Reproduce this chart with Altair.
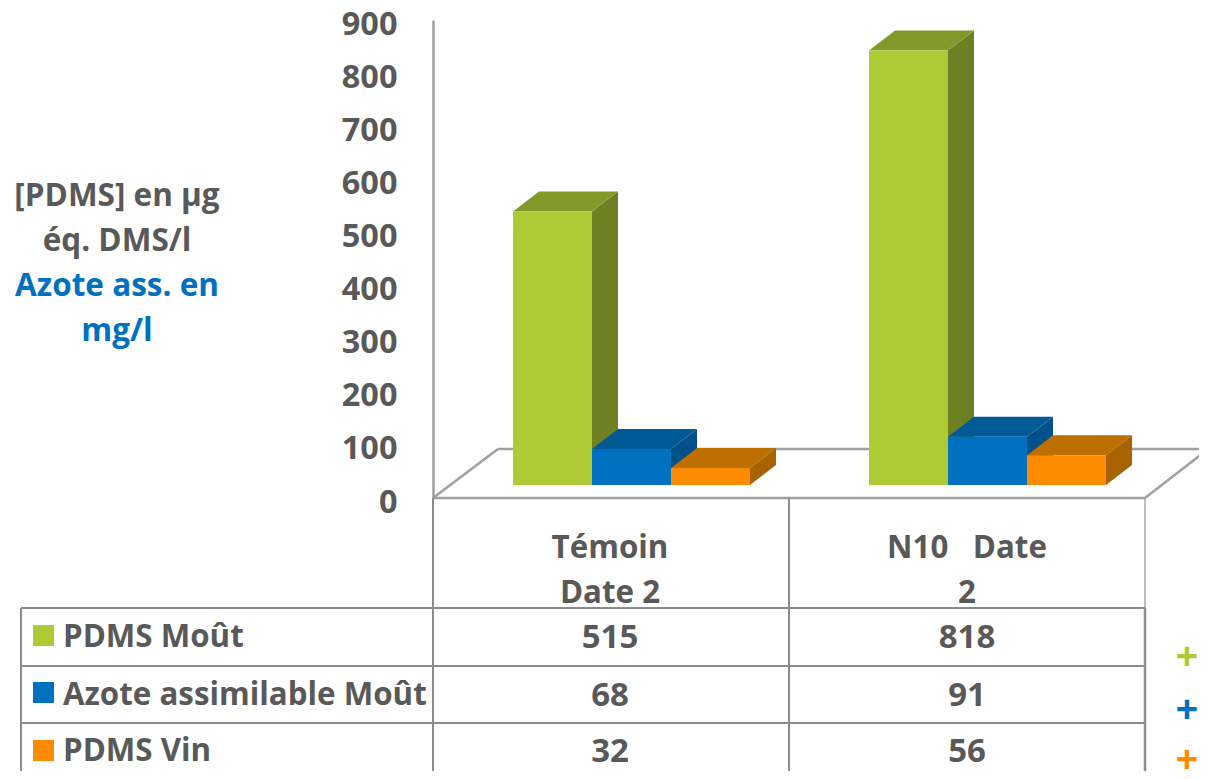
import altair as alt
import pandas as pd

categories = ["Témoin Date 2", "N10 Date 2"]
category_lines = [["Témoin", "Date 2"], ["N10\u00a0\u00a0\u00a0Date", "2"]]
series = ["PDMS Moût", "Azote assimilable Moût", "PDMS Vin"]
pdms_mout = [515, 818]
azote_mout = [68, 91]
pdms_vin = [32, 56]
values = [pdms_mout, azote_mout, pdms_vin]
front = ["#AECB36", "#0070C0", "#FF8C00"]
side = ["#6F7F24", "#00508A", "#A96200"]
top = ["#839A2A", "#005A96", "#BD6F00"]
y_ticks = [0, 100, 200, 300, 400, 500, 600, 700, 800, 900]
y_title = [("[PDMS] en µg", "#595959"), ("éq. DMS/l", "#595959"),
           ("Azote ass. en", "#0070C0"), ("mg/l", "#0070C0")]

FONT = "Open Sans"
GREY = "#595959"
LINE = "#A0A0A0"
TLINE = "#8C8C8C"
FS = 31.3

OX, OY = 433, 20
W, H = 712, 478
UNIT = H / 900.0
BASE = 13 / UNIT
DX, DY = 26, 20 / UNIT
BAR_W = 79
group_left = [80, 436]

x_scale = alt.Scale(domain=[0, W], range=[0, W], nice=False, zero=False)
y_scale = alt.Scale(domain=[0, 900], nice=False, zero=False)
y_axis = alt.Axis(values=y_ticks, title=None, grid=False, ticks=False,
                  labelFont=FONT, labelFontWeight="bold", labelFontSize=32.5,
                  labelColor=GREY, labelPadding=36, labelOffset=4, domainColor=LINE,
                  domainWidth=2.5, labelBaseline="middle", labelOverlap=False)


def px(v):
    return v - OX


def py(v):
    return v - OY


def X(f):
    return alt.X(f, type="quantitative", scale=x_scale, axis=None)


def Y(f):
    return alt.Y(f, type="quantitative", scale=y_scale, axis=y_axis)


def lit():
    return alt.Chart(pd.DataFrame({"k": [0]}))


def line(x1, y1, x2, y2, color=TLINE, w=2):
    return lit().mark_rule(color=color, strokeWidth=w, clip=False).encode(
        x=alt.value(px(x1)), x2=alt.value(px(x2)),
        y=alt.value(py(y1)), y2=alt.value(py(y2)))


def text(s, x, y, color=GREY, size=FS, align="center"):
    return lit().mark_text(text=s, font=FONT, fontWeight="bold", fontSize=size, color=color,
                           align=align, baseline="middle", clip=False).encode(
        x=alt.value(px(x)), y=alt.value(py(y)))


layers = []

# axis carrier
layers.append(alt.Chart(pd.DataFrame({"v": y_ticks})).mark_point(opacity=0).encode(
    x=alt.value(0), y=Y("v")))

# floor
layers += [
    line(433, 498, 498, 449, LINE, 2.5),
    line(498, 449, 1207, 449, LINE, 2.5),
    line(1145, 498, 1207, 450, LINE, 2.5),
    line(433, 498, 1145, 498, LINE, 2.5),
]

# 3D bars: faces built from the values
for s in range(3):
    side_rows, top_rows = [], []
    for g in range(2):
        v = values[s][g]
        l = group_left[g] + s * BAR_W
        r = l + BAR_W
        t = v + BASE
        for xx, a, b in [(r, t, BASE), (r + DX, t + DY, BASE + DY)]:
            side_rows.append(dict(id=g, x=xx, y=a, y2=b))
        for xx, a, b in [(l, t, t), (l + DX, t + DY, t), (r, t + DY, t), (r + DX, t + DY, t + DY)]:
            top_rows.append(dict(id=g, x=xx, y=a, y2=b))
    for rows, col in [(side_rows, side[s]), (top_rows, top[s])]:
        layers.append(alt.Chart(pd.DataFrame(rows)).mark_area(clip=False, color=col).encode(
            x=X("x"), y=Y("y"), y2="y2:Q", detail="id:N"))

for s in range(3):
    rows = []
    for g in range(2):
        l = group_left[g] + s * BAR_W
        rows.append(dict(cat=categories[g], l=l, r=l + BAR_W, b=BASE, t=values[s][g] + BASE))
    layers.append(alt.Chart(pd.DataFrame(rows)).mark_bar(clip=False, color=front[s]).encode(
        x=X("l"), x2="r:Q", y=Y("t"), y2="b:Q"))

# data table
layers += [
    line(433, 498, 433, 779, TLINE, 2),
    line(789, 498, 789, 779, TLINE, 2),
    line(1145, 498, 1145, 608, "#A8A8A8", 1.5),
    line(1145, 608, 1145, 779, TLINE, 2.5),
    line(21, 608, 1145, 608),
    line(21, 666, 1145, 666),
    line(21, 723, 1145, 723),
    line(21, 608, 21, 779),
]

cols = [610, 967]
for c, lines in zip(cols, category_lines):
    layers.append(text(lines[0], c, 549))
    layers.append(text(lines[1], c, 594))

row_y = [638, 696, 752]
sw_y = [625, 682, 740]
plus_y = [658, 711, 761]
for s in range(3):
    layers.append(lit().mark_rect(color=front[s], clip=False).encode(
        x=alt.value(px(33)), x2=alt.value(px(54)),
        y=alt.value(py(sw_y[s])), y2=alt.value(py(sw_y[s] + 21))))
    layers.append(text(series[s], 63, row_y[s], align="left"))
    for g in range(2):
        layers.append(text(str(values[s][g]), cols[g], row_y[s], size=33))
    layers.append(text("+", 1187, plus_y[s], color=front[s], size=40))

for (t, c), y in zip(y_title, [197, 242, 287, 332]):
    layers.append(text(t, 117, y, color=c, size=31.5))

chart = alt.layer(*layers).properties(
    width=W, height=H,
    autosize=alt.AutoSizeParams(type="none"),
    padding={"left": 425, "top": 12, "right": 54, "bottom": 273},
    background="white",
).configure_view(stroke=None)

chart.save("out.html", embed_options={"renderer": "svg", "actions": False})
